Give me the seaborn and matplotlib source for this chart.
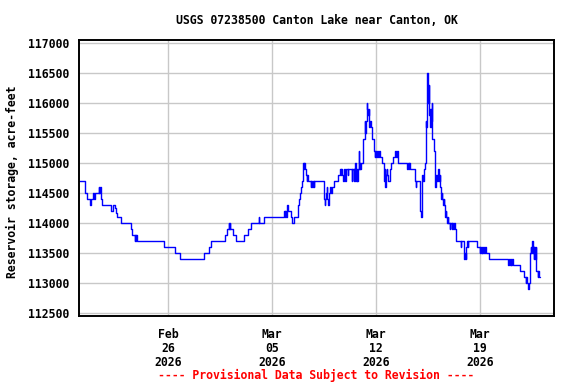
import matplotlib
matplotlib.use("Agg")
import matplotlib.pyplot as plt
import seaborn as sns
import pandas as pd
import numpy as np

# ---------------- data ----------------
start_date = "2026-02-20"
end_date = "2026-03-24"
days_since_start = [
    0.00, 0.42, 0.52, 0.74, 0.78, 0.80, 0.83, 0.96, 1.01, 1.10, 1.33, 1.37, 1.40, 1.46, 1.50, 1.55,
    2.13, 2.27, 2.40, 2.47, 2.58, 2.85, 3.48, 3.57, 3.75, 3.78, 3.82, 3.86, 3.90, 5.72, 6.48, 6.80,
    8.41, 8.73, 8.91, 9.85, 9.98, 10.08, 10.11, 10.14, 10.17, 10.35, 10.61, 11.11, 11.38, 11.56,
    12.10, 12.14, 12.45, 13.82, 13.86, 13.90, 13.95, 14.00, 14.03, 14.06, 14.27, 14.36, 14.49,
    14.72, 14.77, 14.83, 14.90, 14.94, 15.00, 15.06, 15.12, 15.15, 15.18, 15.21, 15.30, 15.34,
    15.37, 15.44, 15.62, 15.66, 15.70, 15.75, 15.80, 15.84, 16.51, 16.56, 16.60, 16.63, 16.68,
    16.71, 16.74, 16.78, 16.83, 16.87, 16.92, 16.97, 17.02, 17.18, 17.45, 17.59, 17.63, 17.67,
    17.71, 17.77, 17.82, 17.92, 17.96, 18.10, 18.15, 18.38, 18.42, 18.50, 18.54, 18.58, 18.62,
    18.66, 18.70, 18.76, 18.80, 18.85, 18.88, 18.92, 18.96, 19.00, 19.16, 19.25, 19.29, 19.33,
    19.38, 19.42, 19.47, 19.52, 19.57, 19.61, 19.66, 19.75, 19.88, 19.92, 19.96, 20.01, 20.10,
    20.15, 20.22, 20.27, 20.41, 20.53, 20.57, 20.60, 20.64, 20.67, 20.73, 20.77, 20.82, 20.95,
    21.05, 21.18, 21.27, 21.36, 21.42, 21.49, 22.10, 22.14, 22.20, 22.26, 22.32, 22.64, 22.68,
    22.72, 23.00, 23.04, 23.09, 23.11, 23.13, 23.17, 23.22, 23.31, 23.36, 23.40, 23.44, 23.47,
    23.50, 23.54, 23.57, 23.60, 23.62, 23.66, 23.70, 23.73, 23.76, 23.81, 23.89, 23.95, 23.99,
    24.03, 24.08, 24.12, 24.17, 24.21, 24.24, 24.28, 24.32, 24.35, 24.39, 24.43, 24.48, 24.53,
    24.57, 24.61, 24.66, 24.70, 24.75, 24.79, 24.84, 24.88, 24.98, 25.01, 25.10, 25.13, 25.20,
    25.23, 25.33, 25.37, 25.42, 25.71, 25.74, 25.91, 25.95, 26.00, 26.05, 26.10, 26.14, 26.18,
    26.23, 26.81, 26.99, 27.03, 27.07, 27.13, 27.18, 27.23, 27.28, 27.33, 27.39, 27.62, 28.92,
    28.97, 29.02, 29.07, 29.12, 29.17, 29.23, 29.68, 29.95, 30.09, 30.13, 30.18, 30.27, 30.30,
    30.36, 30.40, 30.44, 30.48, 30.52, 30.56, 30.59, 30.62, 30.67, 30.72, 30.76, 30.81, 30.90,
    30.94, 30.98, 31.03,
]
storage_af = [
    114700, 114500, 114400, 114300, 114400, 114300, 114400, 114500, 114400, 114500, 114600, 114500, 114600, 114500, 114400, 114300,
    114200, 114300, 114250, 114170, 114100, 114000, 113900, 113800, 113700, 113800, 113700, 113800, 113700, 113600, 113500, 113400,
    113500, 113600, 113700, 113800, 113900, 114000, 113900, 114000, 113900, 113800, 113700, 113800, 113900, 114000,
    114100, 114000, 114100, 114200, 114100, 114200, 114100, 114200, 114300, 114200, 114100, 114000, 114100,
    114200, 114300, 114400, 114500, 114600, 114700, 114900, 115000, 114900, 115000, 114900, 114800, 114700,
    114800, 114700, 114600, 114700, 114600, 114700, 114600, 114700, 114400, 114300, 114400, 114500, 114600,
    114500, 114400, 114300, 114400, 114500, 114600, 114500, 114600, 114700, 114800, 114900, 114800, 114900,
    114800, 114700, 114900, 114700, 114900, 114800, 114900, 114700, 114900, 114700, 114900, 114700, 115000,
    114700, 114900, 114700, 114900, 115200, 114900, 115000, 114900, 115000, 115400, 115700, 115500, 115700,
    116000, 115900, 115800, 115900, 115600, 115700, 115600, 115400, 115200, 115100, 115200, 115100, 115200,
    115100, 115200, 115100, 115000, 114800, 114700, 114900, 114600, 114800, 114900, 114800, 114700, 114900,
    115000, 115100, 115200, 115100, 115200, 115000, 114900, 115000, 114900, 115000, 114900, 114700, 114600,
    114700, 114200, 114100, 114300, 114200, 114800, 114700, 114900, 115000, 115700, 115600, 116100, 116500,
    116300, 116000, 116300, 115800, 115900, 115600, 115900, 115700, 116000, 115400, 115200, 114700, 114600,
    114700, 114800, 114700, 114800, 114900, 114800, 114700, 114800, 114600, 114400, 114500, 114400, 114300,
    114400, 114300, 114100, 114200, 114100, 114000, 114100, 114000, 113900, 114000, 113900, 114000, 113900,
    114000, 113900, 113800, 113700, 113600, 113700, 113500, 113400, 113500, 113400, 113600, 113700, 113600,
    113700, 113600, 113500, 113600, 113500, 113600, 113500, 113600, 113500, 113600, 113500, 113400, 113300,
    113400, 113300, 113400, 113300, 113400, 113300, 113200, 113100, 113000, 113100, 113000, 112900, 113000,
    113300, 113500, 113600, 113500, 113700, 113500, 113600, 113400, 113600, 113400, 113600, 113200, 113100,
    113200, 113100, 113100,
]
y_ticks = [112500, 113000, 113500, 114000, 114500, 115000, 115500, 116000, 116500, 117000]
x_tick_dates = ["2026-02-26", "2026-03-05", "2026-03-12", "2026-03-19"]
x_tick_labels = ["Feb\n26\n2026", "Mar\n05\n2026", "Mar\n12\n2026", "Mar\n19\n2026"]
title = "USGS 07238500 Canton Lake near Canton, OK"
y_label = "Reservoir storage, acre-feet"
footer = "---- Provisional Data Subject to Revision ----"

# ---------------- plot ----------------
sns.set_theme(style="white")
plt.rcParams["font.family"] = ["DejaVu Sans Mono", "DejaVu Sans"]
plt.rcParams["font.weight"] = "bold"

df = pd.DataFrame({
    "time": pd.Timestamp(start_date) + pd.to_timedelta(days_since_start, unit="D"),
    "storage": storage_af,
})

fig = plt.figure(figsize=(5.76, 3.84), dpi=100)
ax = fig.add_axes([79 / 576, 1 - 315.5 / 384, (554 - 79) / 576, (315.5 - 40) / 384])

sns.lineplot(data=df, x="time", y="storage", ax=ax, color="#0000ff", linewidth=1.0,
             drawstyle="steps-post", estimator=None, sort=True)

ax.set_xlim(pd.Timestamp(start_date), pd.Timestamp(end_date))
ax.set_ylim(112463, 117055)
ax.set_yticks(y_ticks)
ax.set_yticklabels([str(v) for v in y_ticks], fontsize=8.3, fontweight="bold")
ax.set_xticks(pd.to_datetime(x_tick_dates))
ax.set_xticklabels(x_tick_labels, fontsize=8.3, fontweight="bold", linespacing=1.1)
ax.tick_params(axis="both", length=0, colors="black")
ax.tick_params(axis="y", pad=7)
ax.tick_params(axis="x", pad=9)
ax.grid(True, color="#c8c8c8", linewidth=1.0)
ax.set_axisbelow(True)
for s in ax.spines.values():
    s.set_color("black")
    s.set_linewidth(1.4)
ax.set_xlabel("")
ax.set_ylabel("")

fig.text(316.5 / 576, 1 - 20 / 384, title, ha="center", va="center",
         fontsize=8.3, fontweight="bold", color="black")
fig.text(12 / 576, 1 - 182 / 384, y_label, ha="center", va="center", rotation=90,
         fontsize=8.3, fontweight="bold", color="black")
fig.text(316 / 576, 1 - 375 / 384, footer, ha="center", va="center",
         fontsize=8.3, fontweight="bold", color="#ff0000")

fig.savefig("out.png", dpi=100, facecolor="white")
